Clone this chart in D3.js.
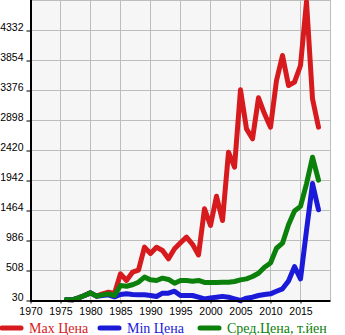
<!DOCTYPE html>
<html>
<head>
<meta charset="utf-8">
<script src="https://cdn.jsdelivr.net/npm/d3@7"></script>
<style>
  html, body { margin: 0; padding: 0; background: #fff; }
  svg { display: block; }
</style>
</head>
<body>
<svg id="chart" width="345" height="335"></svg>
<script>
// Years on the horizontal axis
const years = d3.range(1976, 2019);

// Price series (one value per year, 1976–2018)
const maxPrice = [
  46, 40, 73, 110, 152, 99, 136, 163, 141, 455,
  349, 481, 515, 880, 780, 879, 827, 694, 854, 950,
  1040, 925, 755, 1491, 1225, 1690, 1305, 2393, 2154, 3387,
  2765, 2606, 3260, 3005, 2792, 3535, 3933, 3456, 3509, 3774,
  4790, 3244, 2792
];
const minPrice = [
  46, 40, 73, 110, 152, 99, 110, 120, 88, 126,
  136, 126, 120, 120, 110, 94, 147, 147, 178, 110,
  110, 110, 83, 56, 72, 83, 96, 83, 56, 30,
  67, 83, 110, 126, 136, 178, 216, 340, 570, 375,
  1145, 1893, 1475
];
const avgPrice = [
  46, 40, 73, 110, 152, 99, 120, 136, 110, 269,
  258, 280, 322, 402, 359, 349, 386, 365, 306, 349,
  349, 338, 349, 317, 317, 317, 322, 322, 333, 359,
  375, 412, 465, 561, 628, 862, 943, 1238, 1456, 1530,
  1889, 2313, 1948
];

// Axis ticks
const xTicks = [1970, 1975, 1980, 1985, 1990, 1995, 2000, 2005, 2010, 2015];
const xGrid = [1975, 1980, 1985, 1990, 1995, 2000, 2005, 2010, 2015, 2020];
const yTicks = [30, 508, 986, 1464, 1942, 2420, 2898, 3376, 3854, 4332];
const yGrid = [508, 986, 1464, 1942, 2420, 2898, 3376, 3854, 4332, 4810];

const series = [
  { name: "Max Цена", values: maxPrice, color: "#d71a1e" },
  { name: "Min Цена", values: minPrice, color: "#1a1ad8" },
  { name: "Сред.Цена, т.йен", values: avgPrice, color: "#0b800b" }
];

const svg = d3.select("#chart");
const plotLeft = 30.5, plotRight = 330.5, plotTop = 0.5, plotBottom = 300.5;

const x = d3.scaleLinear().domain([1970, 2020]).range([plotLeft, plotRight]);
const y = d3.scaleLinear().domain([30, 4810]).range([plotBottom, plotTop]);

// Plot background
svg.append("rect")
  .attr("x", plotLeft).attr("y", 0)
  .attr("width", plotRight - plotLeft).attr("height", plotBottom)
  .attr("fill", "#f6f6f6");

// Grid lines
const grid = svg.append("g").attr("stroke", "#bdbdbd").attr("stroke-width", 1);
grid.selectAll("line.v").data(xGrid).join("line")
  .attr("class", "v")
  .attr("x1", d => x(d)).attr("x2", d => x(d))
  .attr("y1", 0).attr("y2", plotBottom);
grid.selectAll("line.h").data(yGrid).join("line")
  .attr("class", "h")
  .attr("x1", plotLeft).attr("x2", plotRight)
  .attr("y1", d => y(d)).attr("y2", d => y(d));

// Y axis labels and ticks
const yAxis = d3.axisLeft(y).tickValues(yTicks).tickSize(4).tickPadding(3).tickFormat(d3.format("d"));
const gy = svg.append("g").attr("transform", `translate(${plotLeft},0)`).call(yAxis);
gy.select(".domain").remove();
gy.selectAll(".tick line").attr("stroke", "#000");
gy.selectAll(".tick text")
  .attr("dy", "-0.5")
  .attr("font-family", "'Liberation Sans', Arial, sans-serif")
  .attr("font-size", 10.5)
  .attr("fill", "#000");

// X axis labels and ticks
const xAxis = d3.axisBottom(x).tickValues(xTicks).tickSize(3).tickPadding(4).tickFormat(d3.format("d"));
const gx = svg.append("g").attr("transform", `translate(0,${plotBottom})`).call(xAxis);
gx.select(".domain").remove();
gx.selectAll(".tick line").attr("stroke", "#000");
gx.selectAll(".tick text")
  .attr("font-family", "'Liberation Sans', Arial, sans-serif")
  .attr("font-size", 10.5)
  .attr("fill", "#000");

// Lines
const line = d3.line()
  .x((d, i) => x(years[i]))
  .y(d => y(d));

svg.append("g").selectAll("path").data(series).join("path")
  .attr("d", d => line(d.values))
  .attr("fill", "none")
  .attr("stroke", d => d.color)
  .attr("stroke-width", 5)
  .attr("stroke-linejoin", "round")
  .attr("stroke-linecap", "round");

// Axis lines
svg.append("line")
  .attr("x1", plotLeft + 0.5).attr("x2", plotLeft + 0.5)
  .attr("y1", 0).attr("y2", plotBottom + 1)
  .attr("stroke", "#000").attr("stroke-width", 2);
svg.append("line")
  .attr("x1", plotLeft).attr("x2", plotRight)
  .attr("y1", plotBottom + 0.5).attr("y2", plotBottom + 0.5)
  .attr("stroke", "#000").attr("stroke-width", 2);

// Legend
const legendX = [2, 100, 200];
const legend = svg.append("g");
const items = legend.selectAll("g").data(series).join("g")
  .attr("transform", (d, i) => `translate(${legendX[i]},328)`);
items.append("line")
  .attr("x1", 0).attr("x2", 19)
  .attr("y1", 0).attr("y2", 0)
  .attr("stroke", d => d.color)
  .attr("stroke-width", 5)
  .attr("stroke-linecap", "round");
items.append("text")
  .attr("x", 27).attr("y", 4.5)
  .attr("font-family", "'Liberation Serif', 'Times New Roman', serif")
  .attr("font-size", 14)
  .attr("fill", d => d.color)
  .text(d => d.name);
</script>
</body>
</html>
